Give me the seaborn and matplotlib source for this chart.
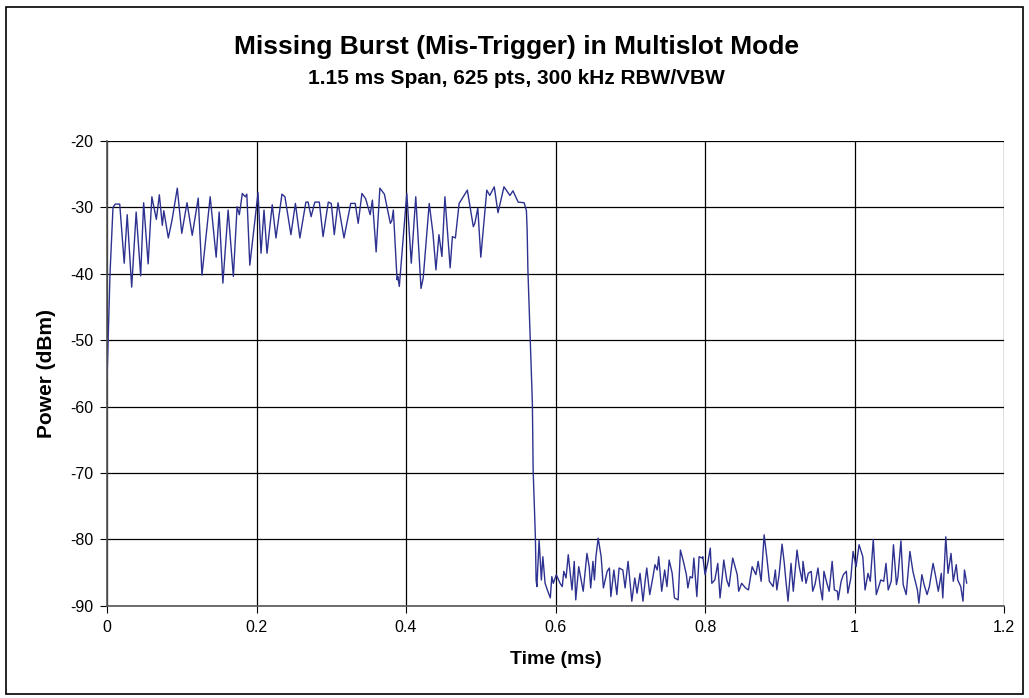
import numpy as np
import pandas as pd
import matplotlib
matplotlib.use('Agg')
import matplotlib.pyplot as plt
import seaborn as sns

# Traço (tempo em ms, potência em dBm)
tempo_burst = [
    0.000, 0.004, 0.008, 0.011, 0.017, 0.023, 0.027, 0.033, 0.039, 0.045,
    0.049, 0.055, 0.060, 0.066, 0.070, 0.074, 0.076, 0.082, 0.087, 0.094,
    0.100, 0.107, 0.114, 0.122, 0.127, 0.138, 0.146, 0.150, 0.155, 0.162,
    0.169, 0.174, 0.177, 0.181, 0.185, 0.187, 0.191, 0.202, 0.206, 0.210,
    0.214, 0.221, 0.226, 0.234, 0.238, 0.246, 0.252, 0.258, 0.266, 0.269,
    0.273, 0.278, 0.284, 0.289, 0.296, 0.300, 0.304, 0.309, 0.317, 0.326,
    0.332, 0.336, 0.341, 0.346, 0.352, 0.355, 0.360, 0.365, 0.371, 0.379,
    0.381, 0.383, 0.388, 0.389, 0.391, 0.401, 0.407, 0.413, 0.420, 0.423,
    0.431, 0.436, 0.440, 0.444, 0.448, 0.452, 0.459, 0.462, 0.466, 0.471,
    0.482, 0.490, 0.492, 0.496, 0.500, 0.508, 0.512, 0.518, 0.523, 0.531,
    0.539, 0.543, 0.550, 0.558, 0.561,
]
potencia_burst = [
    -56.0, -40.0, -30.0, -29.5, -29.5, -38.4, -31.1, -42.0, -30.7, -40.3,
    -29.3, -38.5, -28.4, -31.8, -28.1, -32.7, -30.5, -34.6, -31.9, -27.1,
    -33.9, -29.3, -34.2, -28.6, -40.2, -28.4, -37.5, -30.7, -41.4, -30.4,
    -40.4, -29.9, -31.1, -27.9, -28.4, -28.0, -38.7, -27.8, -36.9, -30.4,
    -36.9, -29.6, -34.6, -28.0, -28.4, -34.1, -29.4, -34.6, -29.2, -29.2,
    -31.4, -29.2, -29.2, -34.4, -29.2, -29.4, -34.1, -29.3, -34.6, -29.4,
    -29.4, -32.4, -27.9, -28.7, -31.1, -28.9, -36.7, -27.1, -28.0, -32.4,
    -32.0, -30.4, -40.9, -40.4, -41.9, -27.9, -38.4, -28.4, -42.2, -40.6,
    -29.4, -33.9, -39.4, -34.1, -37.4, -28.4, -39.1, -34.4, -34.6, -29.4,
    -27.4, -32.9, -32.4, -30.1, -37.5, -27.4, -28.2, -26.9, -30.8, -26.9,
    -28.2, -27.5, -29.2, -29.3, -30.5,
]

# Queda do burst
tempo_queda = [0.562, 0.563, 0.566, 0.569, 0.570, 0.573, 0.574]
potencia_queda = [-33.4, -39.4, -49.5, -59.5, -69.5, -79.6, -86.1]

# Ruído de fundo depois do burst
tempo_ruido = [
    0.575, 0.578, 0.581, 0.583, 0.586, 0.589, 0.593, 0.595, 0.597, 0.601,
    0.606, 0.609, 0.611, 0.614, 0.617, 0.622, 0.625, 0.627, 0.631, 0.637,
    0.642, 0.645, 0.647, 0.650, 0.652, 0.654, 0.657, 0.661, 0.664, 0.669,
    0.672, 0.674, 0.678, 0.682, 0.685, 0.690, 0.693, 0.697, 0.702, 0.706,
    0.709, 0.713, 0.717, 0.720, 0.722, 0.726, 0.730, 0.733, 0.736, 0.738,
    0.742, 0.746, 0.749, 0.752, 0.756, 0.759, 0.764, 0.767, 0.771, 0.775,
    0.777, 0.780, 0.783, 0.785, 0.789, 0.792, 0.796, 0.797, 0.800, 0.804,
    0.807, 0.809, 0.813, 0.817, 0.820, 0.823, 0.825, 0.829, 0.832, 0.837,
    0.843, 0.845, 0.849, 0.854, 0.858, 0.863, 0.868, 0.871, 0.875, 0.879,
    0.883, 0.886, 0.891, 0.894, 0.896, 0.899, 0.903, 0.906, 0.908, 0.911,
    0.915, 0.918, 0.923, 0.926, 0.930, 0.931, 0.935, 0.938, 0.942, 0.944,
    0.947, 0.951, 0.954, 0.957, 0.959, 0.963, 0.966, 0.970, 0.973, 0.977,
    0.978, 0.982, 0.985, 0.989, 0.991, 0.995, 0.998, 1.002, 1.006, 1.011,
    1.014, 1.018, 1.021, 1.025, 1.029, 1.031, 1.035, 1.039, 1.042, 1.045,
    1.049, 1.052, 1.056, 1.058, 1.062, 1.065, 1.069, 1.074, 1.078, 1.084,
    1.086, 1.090, 1.093, 1.097, 1.100, 1.105, 1.108, 1.112, 1.116, 1.118,
    1.122, 1.125, 1.129, 1.132, 1.136, 1.138, 1.142, 1.145, 1.147, 1.150,
]
potencia_ruido = [
    -87.1, -80.1, -86.1, -82.6, -86.6, -87.6, -88.8, -85.6, -86.6, -85.3,
    -86.6, -87.1, -84.8, -85.8, -82.3, -87.6, -83.3, -89.1, -84.1, -87.8,
    -82.1, -84.1, -87.3, -83.3, -86.1, -82.6, -79.8, -82.6, -87.3, -84.8,
    -84.3, -88.6, -84.6, -88.3, -84.3, -84.6, -87.3, -83.3, -89.3, -85.8,
    -88.1, -85.1, -89.3, -86.1, -84.3, -88.3, -85.8, -83.8, -84.6, -82.6,
    -87.8, -84.6, -87.1, -83.1, -85.1, -88.8, -89.1, -81.6, -83.3, -85.3,
    -87.3, -85.6, -85.8, -82.8, -88.6, -82.6, -82.8, -82.6, -85.3, -83.3,
    -81.3, -86.6, -86.1, -83.6, -88.8, -85.6, -83.1, -86.1, -87.1, -82.8,
    -85.3, -87.8, -86.6, -87.3, -87.6, -84.1, -85.3, -83.3, -86.3, -79.3,
    -83.1, -86.3, -87.1, -84.6, -87.6, -85.3, -80.7, -83.6, -86.1, -89.3,
    -83.6, -87.8, -81.6, -84.1, -86.3, -83.3, -86.6, -85.1, -84.8, -87.8,
    -86.8, -84.3, -87.1, -89.1, -84.8, -86.6, -87.8, -83.3, -87.6, -87.8,
    -89.1, -86.3, -85.3, -84.8, -88.1, -85.8, -81.8, -84.1, -80.8, -82.6,
    -87.6, -85.1, -86.3, -80.0, -88.3, -87.6, -86.1, -86.3, -83.6, -87.6,
    -86.3, -80.8, -86.8, -85.6, -80.2, -86.8, -88.3, -81.8, -84.8, -87.6,
    -89.6, -85.3, -86.8, -88.3, -87.1, -83.6, -85.3, -87.8, -85.1, -88.8,
    -79.6, -85.1, -82.1, -86.3, -83.8, -86.1, -87.1, -89.3, -84.6, -86.6,
]

x_ticks = [0, 0.2, 0.4, 0.6, 0.8, 1.0, 1.2]
x_tick_labels = ['0', '0.2', '0.4', '0.6', '0.8', '1', '1.2']
y_ticks = [-90, -80, -70, -60, -50, -40, -30, -20]

df = pd.DataFrame({
    'tempo': tempo_burst + tempo_queda + tempo_ruido,
    'potencia': potencia_burst + potencia_queda + potencia_ruido,
})

sns.set_style('white')
plt.rcParams['font.family'] = ['Liberation Sans', 'DejaVu Sans']
plt.rcParams['axes.unicode_minus'] = False
plt.rcParams['text.color'] = 'black'
plt.rcParams['axes.labelcolor'] = 'black'
plt.rcParams['xtick.color'] = 'black'
plt.rcParams['ytick.color'] = 'black'

fig = plt.figure(figsize=(10.29, 6.98), dpi=100)
ax = fig.add_axes([0.104, 0.132, 0.8718, 0.666])

sns.lineplot(data=df, x='tempo', y='potencia', ax=ax, color='#2D3190',
             linewidth=1.0, sort=False, estimator=None)

ax.set_xlim(0, 1.2)
ax.set_ylim(-90, -20)
ax.set_xticks(x_ticks)
ax.set_xticklabels(x_tick_labels)
ax.set_yticks(y_ticks)
ax.grid(True, color='black', linewidth=0.9)
ax.set_axisbelow(True)
for lado in ['top', 'right']:
    ax.spines[lado].set_visible(False)
for lado in ['left', 'bottom']:
    ax.spines[lado].set_color('#555555')
    ax.spines[lado].set_linewidth(1.2)
ax.tick_params(axis='both', direction='out', length=5, width=0.8,
               color='black', labelsize=11.5, pad=5, bottom=True, left=True)

ax.set_xlabel('Time (ms)', fontsize=14, fontweight='bold', labelpad=12)
ax.set_ylabel('Power (dBm)', fontsize=15, fontweight='bold', labelpad=10)

fig.text(0.502, 0.933, 'Missing Burst (Mis-Trigger) in Multislot Mode',
         ha='center', va='center', fontsize=19, fontweight='bold')
fig.text(0.502, 0.887, '1.15 ms Span, 625 pts, 300 kHz RBW/VBW',
         ha='center', va='center', fontsize=15, fontweight='bold')

# Moldura em volta da figura inteira
fig.patches.append(plt.Rectangle((0.006, 0.006), 0.988, 0.984,
                                 transform=fig.transFigure, fill=False,
                                 edgecolor='black', linewidth=1.2))

fig.savefig('out.png', dpi=100)
